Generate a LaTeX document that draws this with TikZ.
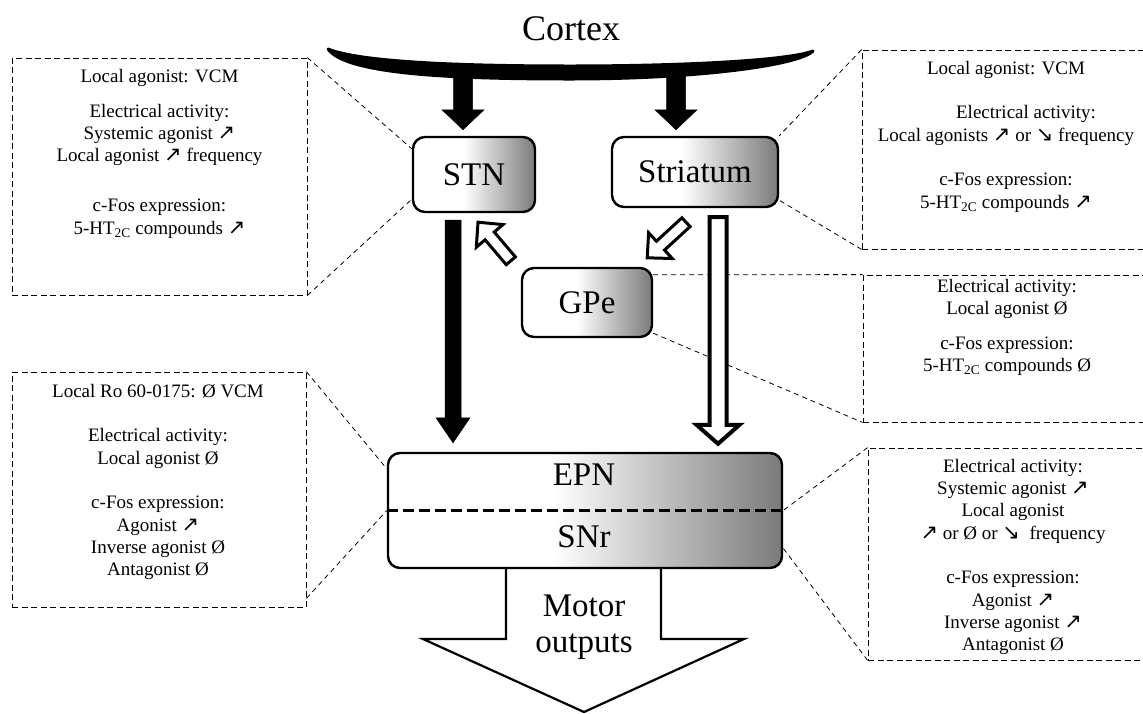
\documentclass[tikz,border=0pt]{standalone}
\usepackage{fontspec}
\setmainfont{Liberation Serif}
\newfontfamily\arrowfont{DejaVu Sans}
\usetikzlibrary{calc,arrows.meta}

% small diagonal arrows used in the annotation texts
\newcommand\uparr{{\arrowfont\fontsize{21}{21}\selectfont ↗}}
\newcommand\dnarr{{\arrowfont\fontsize{21}{21}\selectfont ↘}}
\newcommand\htc{5-HT\textsubscript{2C}}

% white on the left half, fading to grey on the right
\pgfdeclarehorizontalshading{rightgray}{100bp}{color(0bp)=(white); color(25bp)=(white); color(46bp)=(white); color(75bp)=(black!52); color(100bp)=(black!52)}

% block arrow: #1 style, #2 tail, #3 tip, #4 shaft half width, #5 head half width, #6 head length
\newcommand\blockarrow[6]{%
  \coordinate (ba-h) at ($(#3)!#6!(#2)$);
  \draw[#1] ($(#2)!#4!90:(#3)$) -- ($(ba-h)!#4!-90:(#2)$) -- ($(ba-h)!#5!-90:(#2)$) -- (#3)
    -- ($(ba-h)!#5!90:(#2)$) -- ($(ba-h)!#4!90:(#2)$) -- ($(#2)!#4!-90:(#3)$) -- cycle;
}

\begin{document}
\begin{tikzpicture}[x=1pt,y=-1pt,
  nucleus/.style={draw, line width=2.4pt, rounded corners=12pt, shading=rightgray, inner sep=0pt,
                  font=\fontsize{33}{36}\selectfont},
  nucname/.style={font=\fontsize{33}{36}\selectfont, inner sep=0pt, align=center},
  infobox/.style={draw, line width=0.8pt, dash pattern=on 6pt off 3.5pt, inner sep=0pt},
  infotext/.style={font=\fontsize{19}{22.3}\selectfont, align=center, inner sep=0pt, anchor=north},
  link/.style={line width=0.8pt, dash pattern=on 5pt off 4pt},
  solidarrow/.style={fill=black, draw=black, line width=0.5pt},
  hollowarrow/.style={fill=white, draw=black, line width=3pt, line join=miter},
  thickhollow/.style={hollowarrow, line width=4pt},
]
\useasboundingbox (0,0) rectangle (1143,713);

% cortex
\node[font=\fontsize{36}{40}\selectfont, inner sep=0pt] (cortex) at (571,29) {Cortex};
\filldraw[line width=3pt, line join=round]
  (328,49) .. controls (360,62) and (460,66) .. (570,66)
  .. controls (690,66) and (790,60) .. (813,51)
  .. controls (800,65) and (700,79) .. (570,79)
  .. controls (440,79) and (345,73) .. (328,49) -- cycle;
\coordinate (cxL) at (463,72);
\coordinate (cxR) at (676,72);

% nuclei
\node[nucleus, minimum width=122pt, minimum height=75pt] (stn) at (474,174.5) {STN};
\node[nucleus, minimum width=166pt, minimum height=70pt] (stri) at (695,172) {Striatum};
\node[nucleus, minimum width=130pt, minimum height=69pt] (gpe) at (587,302.5) {GPe};
\node[nucleus, minimum width=394pt, minimum height=115pt] (bg) at (585,510.5) {};
\node[nucname] (epn) at (584,475) {EPN};
\node[nucname] (snr) at (584,537) {SNr};
\draw[line width=2.6pt, dash pattern=on 11pt off 5pt] (bg.west) -- (bg.east);

% motor output arrow
\coordinate (motortip) at (584,712);
\draw[line width=2.2pt, line join=miter]
  ($(bg.south)+(-79,0)$) |- (423,639) -- (motortip) -- (744,639) -| ($(bg.south)+(76,0)$);
\node[nucname] (motor) at (584,627) {Motor\\outputs};

% annotation boxes
\node[infobox, minimum width=295pt, minimum height=237pt] (boxA) at (159.5,176.5) {};
\node[infotext] (txtA) at (159.5,69) {Local agonist: VCM\\[12.7pt]
  Electrical activity:\\ Systemic agonist \uparr\\ Local agonist \uparr{} frequency\\[27.7pt]
  c-Fos expression:\\ \htc{} compounds \uparr};

\node[infobox, minimum width=298pt, minimum height=199pt] (boxB) at (1011,149.5) {};
\node[infotext] (txtB) at (1006,61) {Local agonist: VCM\\[22.3pt]
  \hspace*{40pt}Electrical activity:\\ Local agonists \uparr{} or \dnarr{} frequency\\[22.3pt]
  c-Fos expression:\\ \htc{} compounds \uparr};

\node[infobox, minimum width=297pt, minimum height=147pt] (boxC) at (1011.5,348.5) {};
\node[infotext] (txtC) at (1007,279) {Electrical activity:\\ Local agonist Ø\\[12.7pt]
  c-Fos expression:\\ \htc{} compounds Ø};

\node[infobox, minimum width=294pt, minimum height=235pt] (boxD) at (159,489.5) {};
\node[infotext] (txtD) at (158,384) {Local Ro 60-0175: Ø VCM\\[22.3pt]
  Electrical activity:\\ Local agonist Ø\\[22.3pt]
  c-Fos expression:\\ Agonist \uparr\\ Inverse agonist Ø\\ Antagonist Ø};

\node[infobox, minimum width=292pt, minimum height=212pt] (boxE) at (1014,554) {};
\node[infotext] (txtE) at (1013,459) {Electrical activity:\\ Systemic agonist \uparr\\ Local agonist\\
  \uparr{} or Ø or \dnarr{}\ \ frequency\\[22.3pt]
  c-Fos expression:\\ Agonist \uparr\\ Inverse agonist \uparr\\ Antagonist Ø};

% links from annotations to nuclei
\draw[link] (boxA.north east) -- ($(stn.north west)+(0,13)$);
\draw[link] (boxA.south east) -- ($(stn.south west)+(0,-14)$);
\draw[link] (boxB.north west) -- (stri.north east);
\draw[link] (boxB.south west) -- ($(stri.south east)+(0,-8)$);
\draw[link] ($(gpe.north east)+(0,8)$) -- (boxC.north west);
\draw[link] ($(gpe.south east)+(0,-5)$) -- (boxC.south west);
\draw[link] (boxD.north east) -- ($(bg.north west)+(0,17)$);
\draw[link] ($(boxD.south east)+(0,-9)$) -- (bg.west);
\draw[link] (boxE.north west) -- (bg.east);
\draw[link] (boxE.south west) -- ($(bg.south east)+(0,-21)$);

% projections
\coordinate (stnIn) at ($(stn.north)+(-11,-6)$);
\coordinate (striIn) at ($(stri.north)+(-19,-6)$);
\blockarrow{solidarrow}{cxL}{stnIn}{9.5pt}{21pt}{20pt}
\blockarrow{solidarrow}{cxR}{striIn}{9.5pt}{21pt}{20pt}

\coordinate (stnOut) at ($(stn.south)+(-21,7)$);
\coordinate (bgInL) at ($(bg.north)+(-132,-9)$);
\blockarrow{solidarrow}{stnOut}{bgInL}{8pt}{17pt}{25pt}

\coordinate (striOut) at ($(stri.south)+(23,9)$);
\coordinate (bgInR) at ($(bg.north)+(133,-8)$);
\blockarrow{thickhollow}{striOut}{bgInR}{8.5pt}{21.5pt}{19pt}

\coordinate (gpeOut) at ($(gpe.north west)+(-10,-6)$);
\coordinate (stnBack) at ($(stn.south)+(4,9)$);
\blockarrow{hollowarrow}{gpeOut}{stnBack}{6pt}{17.5pt}{18pt}

\coordinate (striSide) at ($(stri.south)+(-9,14)$);
\coordinate (gpeIn) at ($(gpe.north east)+(-6,-9)$);
\blockarrow{hollowarrow}{striSide}{gpeIn}{6pt}{17.5pt}{18pt}
\end{tikzpicture}
\end{document}
